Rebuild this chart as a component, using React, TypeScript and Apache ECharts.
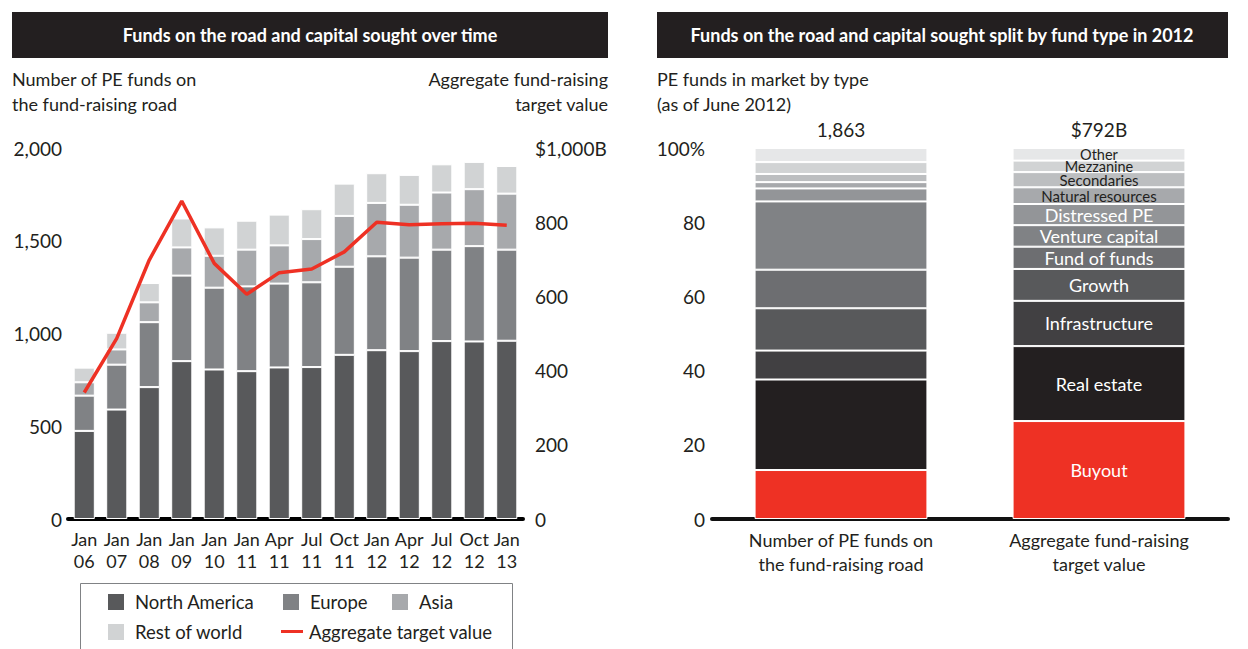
import React, { useEffect, useRef } from "react";
import * as echarts from "echarts";

// ---------- Left chart data ----------
const periods = ["Jan\n06", "Jan\n07", "Jan\n08", "Jan\n09", "Jan\n10", "Jan\n11", "Apr\n11", "Jul\n11", "Oct\n11", "Jan\n12", "Apr\n12", "Jul\n12", "Oct\n12", "Jan\n13"];
const northAmerica = [475, 590, 711, 851, 806, 797, 817, 819, 885, 910, 905, 959, 957, 961];
const europe = [190, 242, 350, 461, 441, 457, 452, 457, 475, 506, 504, 493, 514, 491];
const asia = [72, 82, 107, 152, 172, 198, 206, 233, 274, 288, 285, 308, 307, 302];
const restOfWorld = [79, 90, 104, 156, 153, 156, 166, 161, 174, 160, 161, 152, 147, 149];
const aggregateTarget = [341, 487, 698, 857, 689, 606, 664, 674, 720, 800, 793, 796, 797, 792];
const leftTicks = [0, 500, 1000, 1500, 2000];
const rightTicks = [0, 200, 400, 600, 800, 1000];

// ---------- Right chart data ----------
const splitCategories = ["Number of PE funds on\nthe fund-raising road", "Aggregate fund-raising\ntarget value"];
const splitTotals = ["1,863", "$792B"];
const fundTypes = ["Buyout", "Real estate", "Infrastructure", "Growth", "Fund of funds", "Venture capital", "Distressed PE", "Natural resources", "Secondaries", "Mezzanine", "Other"];
const shareByCount = [13.2, 24.4, 7.8, 11.4, 10.4, 18.4, 3.5, 1.7, 2.2, 3.2, 3.8];
const shareByValue = [26.4, 20.2, 12.2, 8.6, 6.0, 5.8, 5.7, 4.5, 4.1, 3.1, 3.4];

// ---------- Styles ----------
const FONT = "Lato";
const TXT = "#231f20";
const RED = "#ee3124";
const regionColors = ["#58595b", "#808285", "#a7a9ac", "#d1d3d4"];
const typeColors = ["#ee3124", "#231f20", "#414042", "#58595b", "#6d6e71", "#808285", "#939598", "#a7a9ac", "#bcbec0", "#d1d3d4", "#e6e7e8"];
const typeLabelSize = [18, 18, 18, 18, 18, 18, 18, 15, 15, 14.5, 14.5];
const typeLabelColor = ["#fff", "#fff", "#fff", "#fff", "#fff", "#fff", "#fff", TXT, TXT, TXT, TXT];
const BODY = 18;
const NUM = 19;

export default function App() {
  const ref = useRef<HTMLDivElement>(null);
  useEffect(() => {
    if (!ref.current) return;
    const chart = echarts.init(ref.current, undefined, { renderer: "svg" });
    const fmtThousands = (v: number) => v.toLocaleString("en-US");

    const regionNames = ["North America", "Europe", "Asia", "Rest of world"];
    const regionData = [northAmerica, europe, asia, restOfWorld];

    const series: any[] = [];
    regionData.forEach((d, i) => {
      series.push({
        name: regionNames[i],
        type: "bar",
        stack: "region",
        xAxisIndex: 0,
        yAxisIndex: 0,
        barCategoryGap: "35%",
        data: d,
        itemStyle: { color: regionColors[i], borderColor: "#fff", borderWidth: 1 },
      });
    });
    series.push({
      name: "Aggregate target value",
      type: "line",
      xAxisIndex: 0,
      yAxisIndex: 1,
      data: aggregateTarget,
      symbol: "none",
      z: 5,
      lineStyle: { color: RED, width: 3.5 },
      itemStyle: { color: RED },
    });
    fundTypes.forEach((t, i) => {
      series.push({
        name: t,
        type: "bar",
        stack: "type",
        xAxisIndex: 1,
        yAxisIndex: 2,
        barCategoryGap: "33%",
        data: [
          shareByCount[i],
          {
            value: shareByValue[i],
            label: {
              show: true,
              position: "inside",
              formatter: t,
              color: typeLabelColor[i],
              fontSize: typeLabelSize[i],
              fontFamily: FONT,
            },
          },
        ],
        itemStyle: { color: typeColors[i], borderColor: "#fff", borderWidth: 1 },
      });
    });

    const legendItem = (name: string, left: number, top: number, isLine = false) => ({
      show: true,
      left,
      top,
      data: [
        isLine
          ? { name, icon: "path://M0,0 M22,18 M0,7.5 L22,7.5 L22,10.5 L0,10.5 Z" }
          : { name, icon: "rect" },
      ],
      selectedMode: false,
      itemWidth: isLine ? 22 : 18,
      itemHeight: 18,
      textStyle: { fontSize: 18.5, fontFamily: FONT, color: TXT, padding: [0, 0, 0, isLine ? 1 : 5] },
      padding: 0,
    });

    const option: any = {
      animation: false,
      textStyle: { fontFamily: FONT },
      grid: [
        { left: 68, right: 1248 - 523, top: 148, bottom: 649 - 519, containLabel: false },
        { left: 712, right: 1248 - 1228, top: 148, bottom: 649 - 519, containLabel: false },
      ],
      legend: [
        legendItem("North America", 106, 592),
        legendItem("Europe", 281, 592),
        legendItem("Asia", 390, 592),
        legendItem("Rest of world", 106, 622),
        legendItem("Aggregate target value", 281, 622, true),
      ],
      xAxis: [
        {
          gridIndex: 0,
          type: "category",
          data: periods,
          axisLine: { lineStyle: { color: "#000", width: 4 } },
          axisTick: { show: false },
          axisLabel: { interval: 0, fontSize: BODY, lineHeight: 22, margin: 9, color: TXT, fontFamily: FONT },
        },
        {
          gridIndex: 1,
          type: "category",
          data: splitCategories,
          axisLine: { lineStyle: { color: "#111", width: 4 } },
          axisTick: { show: false },
          axisLabel: { interval: 0, fontSize: BODY, lineHeight: 24, margin: 9, color: TXT, fontFamily: FONT },
        },
        {
          gridIndex: 1,
          type: "category",
          position: "top",
          data: splitTotals,
          axisLine: { show: false },
          axisTick: { show: false },
          axisLabel: { interval: 0, fontSize: NUM, margin: 9, color: TXT, fontFamily: FONT },
        },
      ],
      yAxis: [
        {
          gridIndex: 0,
          type: "value",
          min: leftTicks[0],
          max: leftTicks[leftTicks.length - 1],
          interval: 500,
          splitLine: { show: false },
          axisLine: { show: false },
          axisTick: { show: false },
          axisLabel: { formatter: (v: number) => fmtThousands(v), fontSize: NUM, margin: 6, color: TXT, fontFamily: FONT },
        },
        {
          gridIndex: 0,
          type: "value",
          position: "right",
          min: rightTicks[0],
          max: rightTicks[rightTicks.length - 1],
          interval: 200,
          splitLine: { show: false },
          axisLine: { show: false },
          axisTick: { show: false },
          axisLabel: {
            formatter: (v: number) => (v === 1000 ? "$1,000B" : String(v)),
            fontSize: NUM,
            margin: 12,
            color: TXT,
            fontFamily: FONT,
          },
        },
        {
          gridIndex: 1,
          type: "value",
          min: 0,
          max: 100,
          interval: 20,
          splitLine: { show: false },
          axisLine: { show: false },
          axisTick: { show: false },
          axisLabel: {
            formatter: (v: number) => (v === 100 ? "100%" : String(v)),
            fontSize: NUM,
            margin: 7,
            color: TXT,
            fontFamily: FONT,
          },
        },
      ],
      graphic: [
        { type: "rect", shape: { x: 12, y: 12, width: 596, height: 46 }, style: { fill: TXT } },
        {
          type: "text",
          x: 310,
          y: 35,
          style: { text: "Funds on the road and capital sought over time", fill: "#fff", fontSize: 18, fontWeight: "bold", fontFamily: FONT, align: "center", verticalAlign: "middle" },
        },
        { type: "rect", shape: { x: 657, y: 12, width: 571, height: 46 }, style: { fill: TXT } },
        {
          type: "text",
          x: 942,
          y: 35,
          style: { text: "Funds on the road and capital sought split by fund type in 2012", fill: "#fff", fontSize: 18, fontWeight: "bold", fontFamily: FONT, align: "center", verticalAlign: "middle" },
        },
        {
          type: "text",
          x: 12,
          y: 66,
          style: { text: "Number of PE funds on\nthe fund-raising road", fill: TXT, fontSize: BODY, lineHeight: 25, fontFamily: FONT, align: "left" },
        },
        {
          type: "text",
          x: 608,
          y: 66,
          style: { text: "Aggregate fund-raising\ntarget value", fill: TXT, fontSize: BODY, lineHeight: 25, fontFamily: FONT, align: "right" },
        },
        {
          type: "text",
          x: 657,
          y: 66,
          style: { text: "PE funds in market by type\n(as of June 2012)", fill: TXT, fontSize: BODY, lineHeight: 25, fontFamily: FONT, align: "left" },
        },
        { type: "rect", shape: { x: 80.5, y: 583.5, width: 432, height: 80 }, style: { fill: "none", stroke: "#808285", lineWidth: 1 } },
      ],
      series,
    };
    chart.setOption(option);
    return () => chart.dispose();
  }, []);
  return <div ref={ref} style={{ position: "fixed", left: 0, top: 0, width: 1248, height: 649, background: "#fff" }} />;
}
